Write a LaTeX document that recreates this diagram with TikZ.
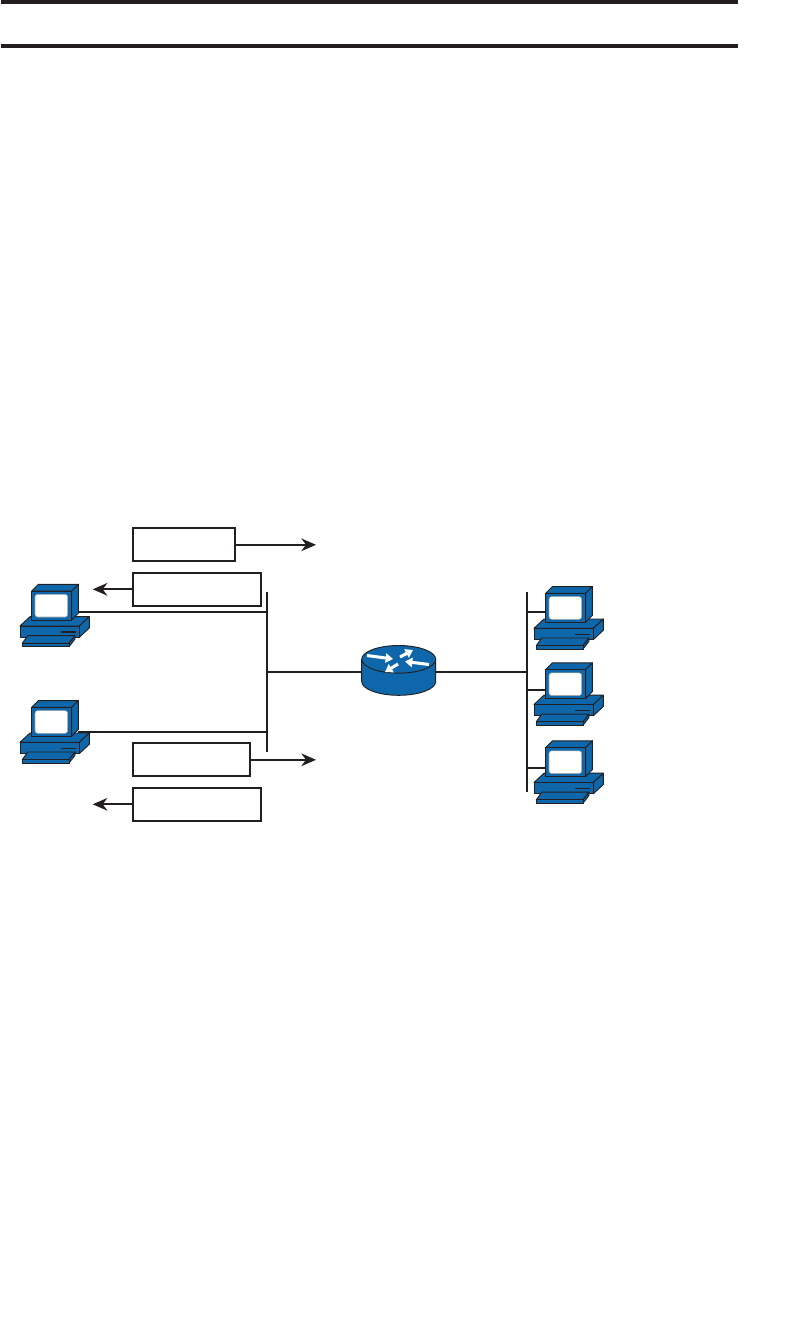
\documentclass[tikz,border=0pt]{standalone}
\usepackage{xcolor}
\usetikzlibrary{arrows.meta}
\definecolor{bleuposte}{RGB}{14, 103, 170}
\definecolor{noirtrait}{RGB}{35, 31, 32}
\tikzset{
  boite/.style={draw=noirtrait, line width=1.6pt, inner sep=0pt, minimum height=24.8pt},
  fleche/.style={draw=noirtrait, line width=1.4pt, -{Stealth[length=11pt, width=9.5pt, inset=3.5pt]}},
  liaison/.style={draw=noirtrait, line width=1.4pt},
  regle/.style={draw=noirtrait, line width=3pt},
  contour/.style={fill=bleuposte, draw=noirtrait, line width=0.7pt, line join=round},
  fleblanche/.style={draw=white, line width=2.3pt, -{Triangle[length=5.5pt, width=7pt]}},
  poste/.pic={
    \path[contour] (-11.7,35) -- (-1.7,25.7) -- (57.6,25.7) -- (47.6,35) -- cycle;
    \path[contour] (47.6,35) -- (57.6,25.7) -- (57.6,37) -- (47.6,46.3) -- cycle;
    \path[contour] (-11.7,35) rectangle (47.6,46.3);
    \draw[noirtrait, line width=1.2pt] (29,41) -- (44,41);
    \path[contour] (-9.4,52.3) -- (-4,44.7) -- (43.3,44.7) -- (37.3,52.3) -- cycle;
    \path[contour] (37.3,52.3) -- (43.3,44.7) -- (43.3,48) -- (37.3,55.7) -- cycle;
    \path[contour] (-9.4,52.3) rectangle (37.3,55.7);
    \path[contour] (0,0) -- (6.7,-6.7) -- (46.7,-6.7) -- (40,0) -- cycle;
    \path[contour] (40,0) -- (46.7,-6.7) -- (46.7,22) -- (40,29) -- cycle;
    \path[contour] (0,0) rectangle (40,29);
    \path[fill=white, draw=black!35, line width=0.4pt, rounded corners=2pt] (3.3,3.3) rectangle (36,26);
    \coordinate (-est) at (46.7,10);
    \coordinate (-ouest) at (0,10);
  }
}
\begin{document}
\begin{tikzpicture}[x=0.75pt, y=-0.75pt]
  \useasboundingbox (0,0) rectangle (811,1329);
  \draw[regle] (1,2) -- (738,2);
  \draw[regle] (1,46) -- (738,46);

  \node[boite, minimum width=77pt] (trameA) at (184,544.8) {};
  \node[boite, minimum width=96.5pt] (trameB) at (197,589.3) {};
  \node[boite, minimum width=88.2pt] (trameC) at (191.5,759.8) {};
  \node[boite, minimum width=96.5pt] (trameD) at (197,804.3) {};
  \coordinate (sortieA) at (316,544.8);
  \coordinate (sortieB) at (92.7,589.3);
  \coordinate (sortieC) at (316,759.8);
  \coordinate (sortieD) at (92.7,804.3);
  \draw[fleche] (trameA) -- (sortieA);
  \draw[fleche] (trameB) -- (sortieB);
  \draw[fleche] (trameC) -- (sortieC);
  \draw[fleche] (trameD) -- (sortieD);

  \pic (posteA) at (31.7,591) {poste};
  \pic (posteB) at (31.7,707.3) {poste};
  \pic (posteC) at (545.7,593.3) {poste};
  \pic (posteD) at (545.7,669.5) {poste};
  \pic (posteE) at (545.7,747.5) {poste};

  \coordinate (busGhaut) at (267,592);
  \coordinate (busGbas) at (267,752);
  \coordinate (busDhaut) at (527,592);
  \coordinate (busDbas) at (527,792);
  \draw[liaison] (busGhaut) -- (busGbas);
  \draw[liaison] (busDhaut) -- (busDbas);

  \node[minimum width=55.5pt, minimum height=37.2pt, inner sep=0pt, outer sep=0pt] (routeur) at (398.7,670.5) {};
  \path[contour, line width=0.7pt] (361.7,659.3) -- (361.7,681.5)
    .. controls (361.7,689.1) and (378.3,695.3) .. (398.7,695.3)
    .. controls (419.1,695.3) and (435.7,689.1) .. (435.7,681.5)
    -- (435.7,659.3) -- cycle;
  \path[contour, line width=0.7pt] (398.7,659.3) ellipse (37 and 13.8);
  \draw[fleblanche] (367,655.5) -- (393,659);
  \draw[fleblanche] (400,657) -- (413,650);
  \draw[fleblanche] (429,664.5) -- (405,661.5);
  \draw[fleblanche] (398,664) -- (385,672);

  \coordinate (arriveeA) at (267,612);
  \coordinate (arriveeB) at (267,732);
  \coordinate (arriveeM) at (267,672);
  \coordinate (arriveeN) at (527,672);
  \coordinate (arriveeC) at (527,612);
  \coordinate (arriveeD) at (527,690);
  \coordinate (arriveeE) at (527,768);
  \draw[liaison] (arriveeA) -- (arriveeA -| posteA-est);
  \draw[liaison] (arriveeB) -- (arriveeB -| posteB-est);
  \draw[liaison] (arriveeM) -- (arriveeM -| routeur.west);
  \draw[liaison] (arriveeN) -- (arriveeN -| routeur.east);
  \draw[liaison] (arriveeC) -- (arriveeC -| posteC-ouest);
  \draw[liaison] (arriveeD) -- (arriveeD -| posteD-ouest);
  \draw[liaison] (arriveeE) -- (arriveeE -| posteE-ouest);
\end{tikzpicture}
\end{document}
